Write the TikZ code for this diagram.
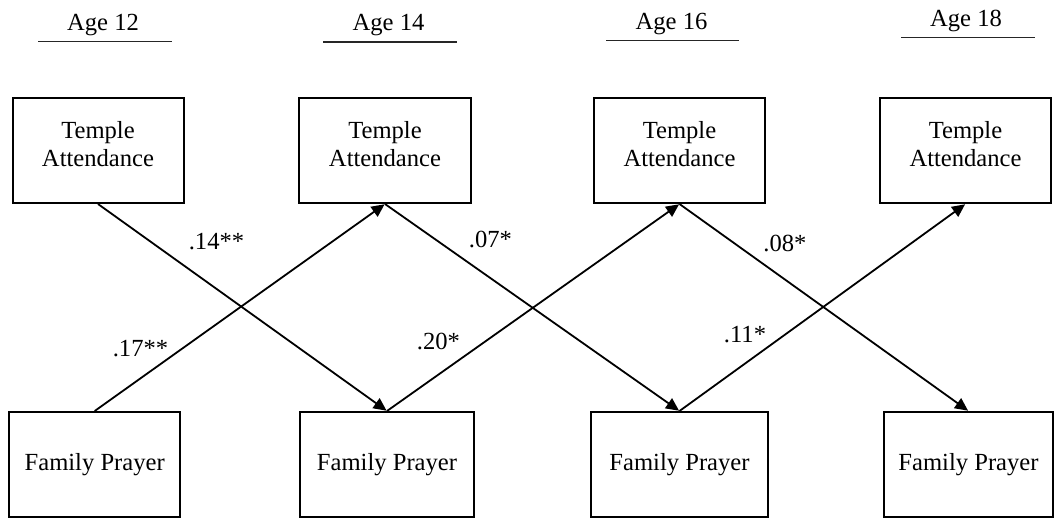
\documentclass[tikz,border=0pt]{standalone}
\usepackage{fontspec}
\setmainfont{Liberation Serif}
\usetikzlibrary{arrows.meta}
\begin{document}
\begin{tikzpicture}[x=1pt,y=-1pt,
  every node/.style={font=\fontsize{24.6}{28.3}\selectfont, inner sep=0pt},
  boxnode/.style={draw, line width=2pt, minimum height=105pt},
  txt/.style={align=center},
  coef/.style={anchor=base},
  agelab/.style={anchor=base},
  rule/.style={line width=1.1pt, black!85},
  path/.style={line width=1.8pt, -{Triangle[length=13pt,width=12pt]}, shorten >=0.5pt}
]
\useasboundingbox (0,0) rectangle (1061,529);

% Age headings with underlines
\node[agelab] (a12) at (103,30.7) {Age 12};
\node[agelab] (a14) at (388.5,30.7) {Age 14};
\node[agelab] (a16) at (671.5,30) {Age 16};
\node[agelab] (a18) at (966,26.7) {Age 18};
\coordinate (u12a) at (38,41.7);  \coordinate (u12b) at (172,41.7);
\coordinate (u14a) at (323,42);   \coordinate (u14b) at (457,42);
\coordinate (u16a) at (606,40.7); \coordinate (u16b) at (739,40.7);
\coordinate (u18a) at (901,37.7); \coordinate (u18b) at (1035,37.7);
\draw[rule] (u12a) -- (u12b);
\draw[rule] (u14a) -- (u14b);
\draw[rule] (u16a) -- (u16b);
\draw[rule] (u18a) -- (u18b);

% Temple attendance boxes
\node[boxnode, minimum width=171pt] (t1) at (98,150.5) {};
\node[boxnode, minimum width=172pt] (t2) at (385,150.5) {};
\node[boxnode, minimum width=171pt] (t3) at (679.5,150.5) {};
\node[boxnode, minimum width=171pt] (t4) at (965.5,150.5) {};
\foreach \i in {1,...,4}
  \node[txt] (t\i txt) at ([yshift=6.5pt]t\i.center) {Temple\\Attendance};

% Family prayer boxes
\node[boxnode, minimum width=171pt] (b1) at (94.7,464.5) {Family Prayer};
\node[boxnode, minimum width=174pt] (b2) at (387,464.5) {Family Prayer};
\node[boxnode, minimum width=177pt] (b3) at (679.5,464.5) {Family Prayer};
\node[boxnode, minimum width=169pt] (b4) at (968.5,464.5) {Family Prayer};

% Cross-lagged paths
\draw[path] (t1.south) -- (b2.north);
\draw[path] (b1.north) -- (t2.south);
\draw[path] (t2.south) -- (b3.north);
\draw[path] (b2.north) -- (t3.south);
\draw[path] (t3.south) -- (b4.north);
\draw[path] (b3.north) -- (t4.south);

% Path coefficients
\node[coef] (c1) at (216.5,249.5) {.14**};
\node[coef] (c2) at (140.5,357) {.17**};
\node[coef] (c3) at (490.5,248) {.07*};
\node[coef] (c4) at (438.5,350) {.20*};
\node[coef] (c5) at (785,252) {.08*};
\node[coef] (c6) at (745,343) {.11*};
\end{tikzpicture}
\end{document}
